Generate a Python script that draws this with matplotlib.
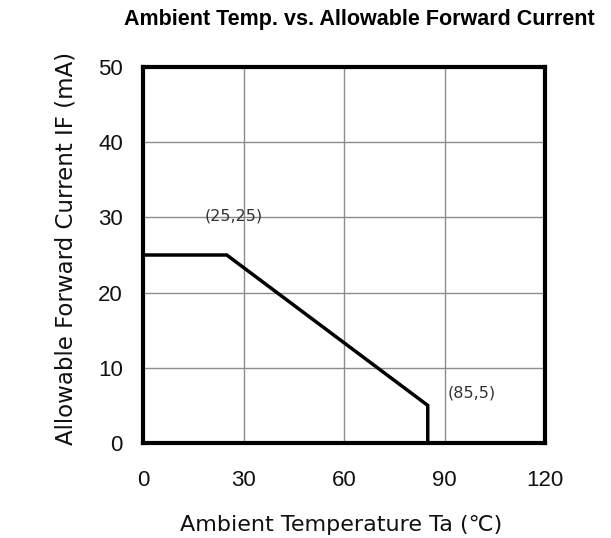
import matplotlib
matplotlib.use("Agg")
import matplotlib.pyplot as plt

# Data
temp = [0, 25, 85, 85]
current = [25, 25, 5, 0]
x_ticks = [0, 30, 60, 90, 120]
y_ticks = [0, 10, 20, 30, 40, 50]
annotations = [("(25,25)", 27.2, 30.2), ("(85,5)", 98.2, 6.65)]

W, H = 611, 538
fig = plt.figure(figsize=(W / 100, H / 100), dpi=100)
l, r, b, t = 143, 545, 443, 67
ax = fig.add_axes([l / W, 1 - b / H, (r - l) / W, (b - t) / H])

ax.set_xlim(0, 120)
ax.set_ylim(0, 50)
ax.set_xticks(x_ticks)
ax.set_yticks(y_ticks)
ax.grid(True, color="#8c8c8c", linewidth=1.0)
ax.set_axisbelow(True)
for s in ax.spines.values():
    s.set_linewidth(3)
    s.set_color("black")
ax.tick_params(length=0, labelsize=16, pad=0, labelcolor="#111111")
ax.tick_params(axis="x", pad=19.5)
ax.tick_params(axis="y", pad=14.5)
for lab in ax.get_xticklabels() + ax.get_yticklabels():
    lab.set_fontfamily("Liberation Sans")

ax.plot(temp, current, color="black", linewidth=2.5, solid_joinstyle="miter", clip_on=False, zorder=3)

for txt, x, y in annotations:
    ax.text(x, y, txt, ha="center", va="center", fontsize=11.5,
            family=["DejaVu Sans"], color="#333333")

fig.text(359.5 / W, 1 - 19 / H, "Ambient Temp. vs. Allowable Forward Current",
         ha="center", va="center", fontsize=15.5, fontweight="bold", family="Liberation Sans")
fig.text(341 / W, 1 - 525 / H, "Ambient Temperature Ta (℃)", ha="center", va="center",
         fontsize=16, family=["DejaVu Sans", "Noto Sans CJK JP"], color="#111111")
fig.text(66 / W, 1 - 248 / H, "Allowable Forward Current IF (mA)", ha="center", va="center",
         rotation=90, fontsize=16.5, family=["DejaVu Sans", "Noto Sans CJK JP"], color="#111111")

fig.savefig("out.png", dpi=100)
